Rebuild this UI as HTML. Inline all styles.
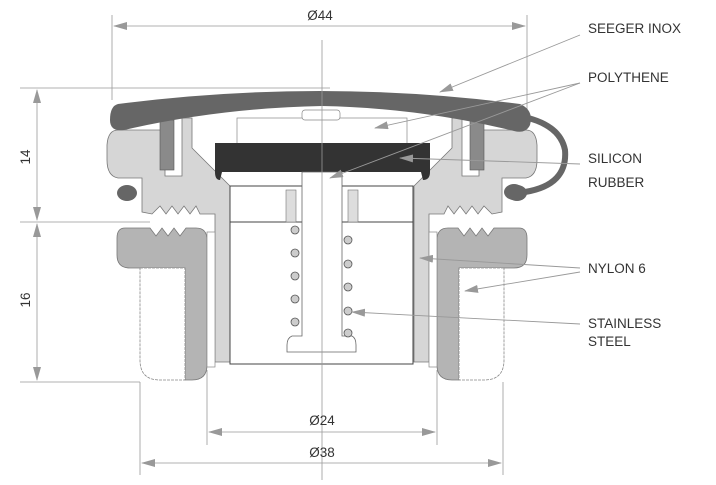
<!DOCTYPE html>
<html><head><meta charset="utf-8"><style>
html,body{margin:0;padding:0;background:#fff;}
svg{display:block}
text{font-family:"Liberation Sans",sans-serif;fill:#333;font-size:13.5px}
</style></head><body>
<svg width="716" height="485" viewBox="0 0 716 485" xmlns="http://www.w3.org/2000/svg">
<defs>
<marker id="a" markerWidth="14" markerHeight="8" refX="13" refY="4" orient="auto" markerUnits="userSpaceOnUse"><path d="M0,0 L14,4 L0,8 Z" fill="#999"/></marker>
<marker id="b" markerWidth="14" markerHeight="8" refX="1" refY="4" orient="auto" markerUnits="userSpaceOnUse"><path d="M14,0 L0,4 L14,8 Z" fill="#999"/></marker>
<g id="half">
  <path d="M118,130 L165,130 L165,176 L182,176 L182,118 L192,118 L192,148 L230,186 L230,362 L215,362 L215,214 L200,214 L196,206 L190,214 L184,206 L178,214 L172,206 L166,214 L160,206 L152,214 L142,212 L142,178 L118,178 Q107,176 107,160 L107,145 Q108,130 118,130 Z" fill="#d6d6d6" stroke="#777" stroke-width="0.8"/>
  <rect x="160" y="120" width="14" height="50" fill="#8a8a8a" stroke="#555" stroke-width="0.6"/>
  <ellipse cx="127" cy="193" rx="10" ry="8" fill="#666"/>
  <path d="M125,228 L150,228 L156,236 L162,228 L168,236 L174,228 L180,236 L186,228 L196,228 Q207,228 207,240 L207,365 Q207,380 192,380 L185,380 L185,268 L130,268 Q117,268 117,255 L117,238 Q117,228 125,228 Z" fill="#b4b4b4" stroke="#777" stroke-width="0.8"/>
  <path d="M140,268 L185,268 L185,380 L160,380 Q140,380 140,360 Z" fill="#fff" stroke="#888" stroke-width="0.8" stroke-dasharray="3,1"/>
  <rect x="207" y="232" width="8" height="135" fill="#fff" stroke="#888" stroke-width="0.7"/>
</g>
</defs>
<g stroke="#999" stroke-width="0.8" fill="none">
  <line x1="112" y1="15" x2="112" y2="100"/>
  <line x1="527" y1="15" x2="527" y2="110"/>
  <line x1="114" y1="26" x2="525" y2="26" marker-start="url(#b)" marker-end="url(#a)"/>
  <line x1="20" y1="88" x2="330" y2="88"/>
  <line x1="20" y1="222" x2="150" y2="222"/>
  <line x1="20" y1="382" x2="140" y2="382"/>
  <line x1="37" y1="90" x2="37" y2="220" marker-start="url(#b)" marker-end="url(#a)"/>
  <line x1="37" y1="224" x2="37" y2="380" marker-start="url(#b)" marker-end="url(#a)"/>
  <line x1="207" y1="370" x2="207" y2="445"/>
  <line x1="437" y1="370" x2="437" y2="445"/>
  <line x1="209" y1="432" x2="435" y2="432" marker-start="url(#b)" marker-end="url(#a)"/>
  <line x1="140" y1="382" x2="140" y2="475"/>
  <line x1="503" y1="382" x2="503" y2="475"/>
  <line x1="142" y1="463" x2="501" y2="463" marker-start="url(#b)" marker-end="url(#a)"/>
</g>
<use href="#half"/>
<use href="#half" transform="translate(644,0) scale(-1,1)"/>
<rect x="230" y="186" width="183" height="178" fill="#fff" stroke="#444" stroke-width="1"/>
<line x1="230" y1="222" x2="413" y2="222" stroke="#444"/>
<rect x="286" y="190" width="10" height="32" fill="#ddd" stroke="#777" stroke-width="0.6"/>
<rect x="348" y="190" width="10" height="32" fill="#ddd" stroke="#777" stroke-width="0.6"/>
<rect x="237" y="118" width="170" height="26" fill="#fff" stroke="#888" stroke-width="0.7"/>
<rect x="302" y="110" width="38" height="10" rx="3" fill="#fff" stroke="#888" stroke-width="0.7"/>
<path d="M215,143 L430,143 L430,172 Q430,180 423,180 L421,172 L222,172 L220,180 Q215,180 215,172 Z" fill="#333"/>
<path d="M302,172 L342,172 L342,336 L352,336 Q356,338 356,345 L356,352 L287,352 L287,345 Q287,338 292,336 L302,336 Z" fill="#fff" stroke="#666" stroke-width="0.8"/>
<g fill="#ccc" stroke="#555" stroke-width="0.8">
<circle cx="295" cy="230" r="4"/><circle cx="295" cy="253" r="4"/><circle cx="295" cy="276" r="4"/><circle cx="295" cy="299" r="4"/><circle cx="295" cy="322" r="4"/>
<circle cx="348" cy="240" r="4"/><circle cx="348" cy="264" r="4"/><circle cx="348" cy="287" r="4"/><circle cx="348" cy="311" r="4"/><circle cx="348" cy="333" r="4"/>
</g>
<path d="M118,104 Q320,78 520,104 Q534,110 530,125 Q526,134 514,131 Q420,108 322,106 Q220,108 124,130 Q110,132 110,120 Q110,106 118,104 Z" fill="#666"/>
<path d="M524,117 Q560,125 565,150 Q568,185 525,192" fill="none" stroke="#666" stroke-width="6"/>
<ellipse cx="514" cy="192" rx="10" ry="8" fill="#666"/>
<line x1="322" y1="40" x2="322" y2="480" stroke="#999" stroke-width="0.8"/>
<g stroke="#999" stroke-width="0.9" fill="none">
<line x1="580" y1="35" x2="440" y2="92" marker-end="url(#a)"/>
<line x1="580" y1="83" x2="375" y2="128" marker-end="url(#a)"/>
<line x1="580" y1="83" x2="330" y2="178" marker-end="url(#a)"/>
<line x1="580" y1="164" x2="400" y2="158" marker-end="url(#a)"/>
<line x1="580" y1="268" x2="420" y2="258" marker-end="url(#a)"/>
<line x1="580" y1="272" x2="465" y2="291" marker-end="url(#a)"/>
<line x1="580" y1="324" x2="352" y2="312" marker-end="url(#a)"/>
</g>
<text x="320" y="20" text-anchor="middle">Ø44</text>
<text x="322" y="425" text-anchor="middle">Ø24</text>
<text x="322" y="457" text-anchor="middle">Ø38</text>
<text transform="translate(30,157) rotate(-90)" text-anchor="middle">14</text>
<text transform="translate(30,300) rotate(-90)" text-anchor="middle">16</text>
<text x="588" y="33">SEEGER INOX</text>
<text x="588" y="82">POLYTHENE</text>
<text x="588" y="163">SILICON</text>
<text x="588" y="187">RUBBER</text>
<text x="588" y="273">NYLON 6</text>
<text x="588" y="328">STAINLESS</text>
<text x="588" y="346">STEEL</text>
</svg>
</body></html>
